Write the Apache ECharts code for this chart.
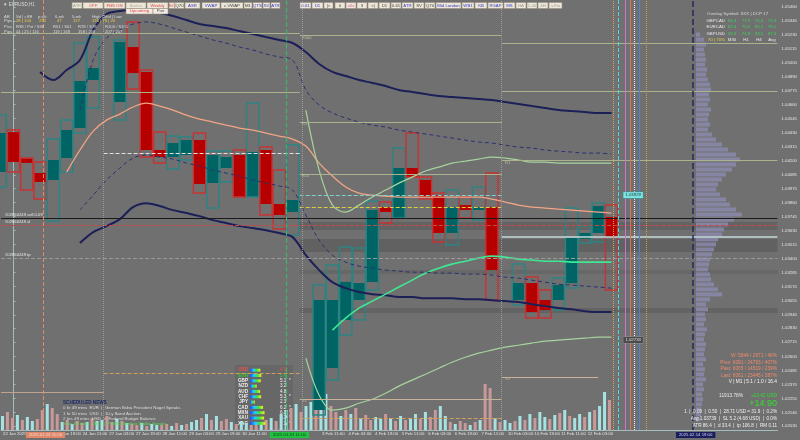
<!DOCTYPE html>
<html><head><meta charset="utf-8">
<script src="https://cdn.jsdelivr.net/npm/echarts@6/dist/echarts.min.js"></script>
<style>html,body{margin:0;padding:0;background:#707070}#c{width:800px;height:440px}</style>
</head><body><div id="c"></div>
<script>
// ---------- DATA ----------
const priceTicks = [1.05460,1.05345,1.05230,1.05115,1.05000,1.04890,1.04775,1.04660,1.04545,1.04430,1.04315,1.04200,1.04085,1.03975,1.03860,1.03745,1.03630,1.03515,1.03400,1.03285,1.03170,1.03055,1.02940,1.02830,1.02715,1.02600,1.02485,1.02370,1.02255,1.02140,1.02030];
const timeLabels = ['22 Jan 2025',null,'23 Jan 19:00','24 Jan 11:00','27 Jan 03:00','27 Jan 19:00','28 Jan 11:00','29 Jan 03:00','29 Jan 19:00','30 Jan 11:00',null,null,'3 Feb 11:00','4 Feb 03:00','4 Feb 19:00','5 Feb 11:00','6 Feb 03:00','6 Feb 19:00','7 Feb 11:00','10 Feb 03:00','10 Feb 19:00','11 Feb 11:00','12 Feb 03:00'];
const markerLabels = ['2025.01.23 11:00','2025.01.31 11:00','2025.02.14 19:00'];
const markerSlots = [0.94, 19.29, 49.85];

const candleSlot  = [-1,0,1,2,3,4,5,6,8,9,10,11,12,13,14,15,16,17,18,19,20,21,23,24,25,26,27,28,29,30,31,32,33,34,35,36,38,39,40,41,42,43,44,45];
const candleOpen  = [1.04109,1.04436,1.04220,1.04101,1.04044,1.04224,1.04469,1.04862,1.04682,1.05132,1.04928,1.04289,1.04232,1.04248,1.04371,1.04019,1.04142,1.04248,1.03906,1.04289,1.03847,1.03782,1.02161,1.02505,1.02898,1.03061,1.03209,1.03822,1.03735,1.04142,1.04044,1.03921,1.03610,1.03839,1.03798,1.03822,1.03061,1.03200,1.03061,1.03061,1.03200,1.03561,1.03610,1.03741];
const candleClose = [1.04428,1.04191,1.04183,1.04027,1.04207,1.04453,1.04854,1.04960,1.05173,1.04919,1.04289,1.04232,1.04346,1.04371,1.04011,1.04248,1.04232,1.03906,1.04273,1.03847,1.03757,1.03880,1.03061,1.03061,1.03209,1.03200,1.03798,1.03782,1.04142,1.04068,1.03904,1.03610,1.03822,1.03798,1.03822,1.03307,1.03200,1.02963,1.02979,1.03184,1.03569,1.03610,1.03831,1.03577];
const candleLow   = [1.03986,1.04109,1.03962,1.03888,1.03708,1.04109,1.04428,1.04633,1.04535,1.04788,1.04232,1.04183,1.04134,1.04207,1.03937,1.03814,1.04027,1.03904,1.03904,1.03757,1.03642,1.03593,1.02120,1.02406,1.02775,1.02898,1.03143,1.03691,1.03732,1.04068,1.03888,1.03536,1.03511,1.03732,1.03716,1.03061,1.03020,1.02914,1.02914,1.02979,1.03160,1.03528,1.03536,1.03143];
const candleHigh  = [1.04576,1.04453,1.04224,1.04191,1.04379,1.04535,1.05165,1.05214,1.05190,1.05337,1.04944,1.04436,1.04404,1.04396,1.04428,1.04281,1.04281,1.04289,1.04674,1.04314,1.04125,1.04330,1.03184,1.03348,1.03495,1.03487,1.03872,1.03864,1.04306,1.04428,1.04068,1.03937,1.03962,1.03904,1.03986,1.04101,1.03356,1.03250,1.03143,1.03241,1.03814,1.03667,1.03855,1.03839];

const upperBandStart = 2;
const upperBand = [1.04928,1.04862,1.04944,1.05026,1.05271,1.05402,1.05427,1.05435,1.05427,1.05411,1.05386,1.05353,1.05320,1.05304,1.05288,1.05263,1.05239,1.05214,1.05190,1.05165,1.05091,1.04993,1.04928,1.04895,1.04862,1.04838,1.04813,1.04780,1.04764,1.04747,1.04731,1.04723,1.04715,1.04707,1.04698,1.04682,1.04666,1.04649,1.04633,1.04617,1.04608,1.04600,1.04592,1.04592];
const lowerBandStart = 5;
const lowerBand = [1.03527,1.03617,1.03666,1.03723,1.03822,1.03854,1.03830,1.03797,1.03773,1.03748,1.03715,1.03691,1.03666,1.03650,1.03633,1.03609,1.03576,1.03429,1.03306,1.03207,1.03158,1.03126,1.03109,1.03101,1.03085,1.03085,1.03076,1.03076,1.03076,1.03068,1.03068,1.03060,1.03052,1.03044,1.03027,1.03011,1.02995,1.02986,1.02970,1.02962,1.02962];
const midLineStart = 4;
const midLine = [1.04108,1.04289,1.04444,1.04534,1.04583,1.04641,1.04673,1.04649,1.04616,1.04575,1.04542,1.04518,1.04493,1.04469,1.04452,1.04428,1.04403,1.04379,1.04321,1.04182,1.04076,1.03986,1.03936,1.03920,1.03912,1.03904,1.03904,1.03904,1.03904,1.03904,1.03904,1.03904,1.03887,1.03863,1.03838,1.03822,1.03814,1.03805,1.03797,1.03789,1.03781,1.03773];
const greenLineStart = 24;
const greenLine = [1.02814,1.02913,1.02995,1.03052,1.03109,1.03167,1.03224,1.03281,1.03322,1.03355,1.03379,1.03404,1.03420,1.03412,1.03396,1.03388,1.03379,1.03379,1.03371,1.03371,1.03371,1.03371];
const paleUpperStart = 22;
const paleUpper = [1.04616,1.04125,1.03838,1.03781,1.03838,1.03904,1.03961,1.04018,1.04067,1.04117,1.04149,1.04182,1.04198,1.04215,1.04231,1.04223,1.04207,1.04190,1.04190,1.04182,1.04182,1.04182,1.04182,1.04182];
const paleLowerStart = 22;
const paleLower = [1.02585,1.02282,1.02159,1.02176,1.02216,1.02249,1.02298,1.02356,1.02405,1.02454,1.02503,1.02552,1.02593,1.02626,1.02651,1.02675,1.02691,1.02708,1.02724,1.02732,1.02741,1.02749,1.02757,1.02757];
const upperDashStart = 5;
const upperDash = [1.04616,1.05026,1.05206,1.05271,1.05320,1.05337,1.05320,1.05288,1.05255,1.05222,1.05190,1.05165,1.05132,1.05108,1.05075,1.05050,1.05026,1.04780,1.04657,1.04592,1.04551,1.04518,1.04493,1.04477,1.04452,1.04436,1.04420,1.04403,1.04387,1.04370,1.04354,1.04346,1.04329,1.04313,1.04305,1.04289,1.04280,1.04272,1.04264,1.04264,1.04256];
const lowerDashStart = 5;
const lowerDash = [1.03797,1.03920,1.04043,1.04141,1.04223,1.04248,1.04231,1.04215,1.04182,1.04158,1.04125,1.04100,1.04076,1.04043,1.04018,1.03994,1.03961,1.03756,1.03551,1.03429,1.03371,1.03338,1.03322,1.03306,1.03298,1.03289,1.03289,1.03281,1.03281,1.03273,1.03273,1.03265,1.03248,1.03240,1.03224,1.03207,1.03191,1.03183,1.03175,1.03167,1.03158];

const volumes = [14,18,12,15,10,13,9,11,20,26,22,16,8,10,6,9,7,8,12,9,10,14,8,11,9,7,6,5,7,4,6,5,5,6,4,7,5,6,8,10,12,16,10,14,9,11,8,6,9,7,5,8,6,10,12,9,16,20,22,26,18,24,28,20,30,36,24,18,14,20,16,22,12,15,10,13,11,16,12,9,14,10,12,16,11,18,13,20,24,14,8,6,9,7,5,8,10,46,42,12,8,10,7,9,14,10,16,12,18,13,11,15,17,20,14,12,16,13,18,20,24,38,30];
const volDir = [1,0,0,1,0,1,1,0,0,1, 0,0,1,0,1,0,0,1,0,1, 1,0,0,1,0,1,0,0,1,0, 1,1,0,0,1,0,1,0,1,1, 0,1,0,1,0,0,1,0,1,1, 0,0,1,0,1,0,1,1,0,1, 0,1,1,0,1,1,0,0,1,0, 1,0,1,0,0,1,1,0,1,0, 1,0,1,1,0,1,0,0,1,1, 0,1,0,0,1,0,1,0,0,1, 0,1,1,0,1,0,1,0,1,1, 0,1,0,1,0,1,1,0,1,0, 1,1,0];

const profileTop = 1.05230, profileStep = 0.000409;
const profileVol = [4,8,10,8,9,10,9,11,10,12,14,15,13,14,12,15,13,12,14,12,16,20,26,32,40,44,40,36,30,26,22,20,24,30,34,40,46,38,32,28,26,22,20,18,16,14,13,12,14,15,18,22,26,14,10,12,9,10,8,11,9,8,10,9,8,10,7,9,8,10,7,8,6,7,6,5,5,4];

const currencies = ['USD','EUR','GBP','NZD','AUD','CHF','JPY','CAD','MXN','XAU','XAG'];
const strength = [4.9,5.4,5.1,3.2,4.8,5.3,2.3,6.2,6.9,6.7,7.3];
const strengthMark = ['','*','*','','','*','','*','*','*','*'];

const overlayRows = ['GBPCAD','EURCAD','GBPUSD'];
const overlayVals = [[84.4,77.9,75.5,79.3],[82.3,70.0,85.1,79.1],[94.3,74.9,93.1,87.4]];

// ---------- CHART ----------
const SLOT_MIN = -0.936, SLOT_MAX = 57.49, PMIN = 1.01997, PMAX = 1.05517;
const FONT = '"Liberation Sans", Arial, sans-serif';
const chart = echarts.init(document.getElementById('c'), null, {renderer:'canvas', width:800, height:440});

function linePts(start, arr){ return arr.map((p,i)=>[start+i, p]); }

const xTickVals = [], xTickText = [];
timeLabels.forEach((t,k)=>{ if(t){ xTickVals.push(-0.79 + 2*k); xTickText.push(t); } });
const mStyles = ['o','g','b'];
markerSlots.forEach((s,i)=>{ xTickVals.push(s); xTickText.push('{'+mStyles[i]+'|'+markerLabels[i]+'}'); });

const candleData = candleSlot.map((s,i)=>[s, candleOpen[i], candleClose[i], candleLow[i], candleHigh[i]]);

function lineSeries(name, start, arr, color, width, type, smooth){
  return {type:'line', name, data: linePts(start, arr), xAxisIndex:0, yAxisIndex:0, showSymbol:false, smooth: smooth===undefined?0.35:smooth,
    lineStyle:{color, width, type: type||'solid'}, z:4, silent:true};
}

const seg = (x1,x2,p,color,type,w)=>[{coord:[x1,p], lineStyle:{color, type:type||'solid', width:w||1}}, {coord:[x2,p]}];
const vl = (s,color,type,w)=>({xAxis:s, lineStyle:{color, type, width:w||1}});

const g = [];
function T(x,y,text,fill,size,align,weight){
  g.push({type:'text', x, y, z:20, style:{text, fill, font:(weight||'normal')+' '+size+'px '+FONT, textAlign:align||'left', textVerticalAlign:'middle'}});
}
function B(label,x0,x1,y0,h,color,bg){
  g.push({type:'rect', z:19, shape:{x:x0,y:y0,width:x1-x0,height:h}, style:{fill:bg||'#ece7d8', stroke:'#9a927f', lineWidth:0.6}});
  T((x0+x1)/2, y0+h/2, label, color, 4.3, 'center');
}
// toolbar
const BL='#3838c8', DK='#404040', RD='#e04040', GY='#9a9a9a';
[['ATF',72,82,GY],['OFF',83,103,'#e06060'],['FBS ON',104,125,RD],['Broker',126,146,'#b8b0a0'],['Weekly',147,168,RD],['EC',169,175,RD],['Q70',175,184,DK],['ASR',185,200,BL],['VWAP',202,220,BL],['c.VWAP',221,243,DK],['M1',244,252,DK],['QTS',253,262,BL],['SV',263,270,BL],['ATR',271,280,BL],
 ['0.61',300,311,BL],['D1',312,323,BL],['|>',324,333,DK],['0',335,345,DK],['x2v',346,356,'#e050a0'],['3',357,367,DK],['<|',368,378,DK],['D1',379,390,DK],['0.61',391,401,DK],['ATR',402,413,BL],['SV',414,424,DK],['Q70',425,435,DK],['Mid London',436,461,BL],['WB1',462,474,BL],['KB',475,487,BL],['RGAP',488,503,BL],['MS',504,515,BL],['HA',516,526,GY],['1.00',527,537,GY],['4H',538,548,GY],['s.Fix',549,562,GY]
].forEach(b=>B(b[0],b[1],b[2],2.5,6,b[3]));
B('Upcoming',126,153,8.5,5.5,RD,'#f4ece4');
B('Pair',153,168,8.5,5.5,DK,'#f4ece4');
// title & info table
T(3,5,'▼ EURUSD,H1','#dcdcdc',4.5);
const LC='#d8d8d8', YC='#e8d048';
T(4,16.5,'AR',LC,4.2); T(16,16.5,'Sd | cSR',LC,4.2); T(38,16.5,'p.wk',LC,4.2); T(55,16.5,'6-mk',LC,4.2); T(72,16.5,'5-mk',LC,4.2); T(92,16.5,'High | Mid | Low',LC,4.2);
T(4,21,'Pips',LC,4.2); T(16,21,'28 | 104',YC,4.2); T(39,21,'232',YC,4.2); T(57,21,'47',YC,4.2); T(73,21,'127',YC,4.2); T(92,21,'136 | 78 | 20',YC,4.2);
T(4,26.5,'Pivs',LC,4.2); T(16,26.5,'R38 / Pvt / S38',LC,4.2); T(53,26.5,'R61 / S61',LC,4.2); T(78,26.5,'R78 / S78',LC,4.2); T(105,26.5,'R100 / S100',LC,4.2);
T(4,31.5,'Pips',LC,4.2); T(16,31.5,'44 | 25 | 116',LC,4.2); T(53,31.5,'119 | 169',LC,4.2); T(78,31.5,'158 | 208',LC,4.2); T(105,31.5,'207 | 257',LC,4.2);
T(302,37.5,'R100','#b8c49a',4); T(302,124,'R1','#b8c49a',4); T(302,176,'S10','#b8c49a',4); T(505,163,'R1','#b8c49a',4); T(302,401,'S1','#c8b49a',4); T(505,379,'S3','#c8b49a',4);
// left order labels
T(5,215,'#02860249 sell 0.09','#e8e8e8',4.2);
T(5,222,'#02860249 sl','#e8e8e8',4.2);
T(5,255,'#02860249 tp','#e8e8e8',4.2);
// news
T(63,402.5,'SCHEDULED NEWS','#1c2a6a',4.6,'left','bold');
T(63,408,'0 hr 49 mins  EUR  |  German Buba President Nagel Speaks','#dcdcdc',4.4);
T(63,413.3,'1 hr 50 mins  USD  |  10-y Bond Auction','#dcdcdc',4.4);
T(63,418.6,'2 hrs 49 mins  USD  >  Federal Budget Balance','#dcdcdc',4.4);
T(63,424,'5 hrs 54 mins  USD  |  FOMC Member Waller Speaks','#58e058',4.4);
// currency panel bg
g.push({type:'rect', z:0, shape:{x:235,y:365,width:58,height:63}, style:{fill:'#676767'}});
// top-right overlay panel
T(707,14,'Overlay Symbol: XXX | DCP 17','#d8d8d8',4.4);
const colX=[732,746,759,772];
overlayRows.forEach((r,i)=>{ const y=20.5+6.5*i; T(725,y,r,'#e8e8e8',4.4,'right'); overlayVals[i].forEach((v,j)=>T(colX[j],y,v.toFixed(1),'#40d060',4.4,'center')); });
T(725,40,'70 | 70%',YC,4.4,'right'); ['M30','H1','H4','Avg'].forEach((t,j)=>T(colX[j],40,t,'#e8e8e8',4.4,'center'));
// right stats
const SC='#f08a6a';
T(777,356,'W: 5844 / 2671 / 46%',SC,4.8,'right');
T(777,362.5,'Prev: 6091 / 24793 / 407%',SC,4.8,'right');
T(777,369,'Past: 6065 / 14519 / 239%',SC,4.8,'right');
T(777,375.5,'Last: 6061 / 23445 / 387%',SC,4.8,'right');
T(777,381.5,'V | M1 | 5.1 / 1.0 / 16.4','#f4f4f4',4.8,'right');
T(743,396,'11913.78%','#e8e8e8',4.8,'right');
T(777,396,'+13.41 USD','#30e030',4.8,'right');
T(777,404,'+14.90','#30e030',9,'right');
T(777,412,'1  |  0.09  |  0.50  |  28.71 USD = 31.9  |  0.2%','#f0f0f0',4.6,'right');
T(777,418.8,'Avg 1.03739  |  SL 5.2 (4.68 USD)  |  0.0%','#f0f0f0',4.6,'right');
T(777,425.6,'ATR 86.4  |  d 33.4  |  tp 106.8  |  RM 0.11','#f0f0f0',4.6,'right');

const option = {
  animation:false,
  backgroundColor:'#707070',
  textStyle:{fontFamily:FONT},
  graphic:{elements:g},
  grid:[
    {left:0, right:20, top:0, bottom:10},
    {left:0, width:612, top:0, bottom:10},
    {left:695, width:85, top:0, bottom:10},
    {left:250, top:367.5, width:16, height:58.5}
  ],
  xAxis:[
    {type:'value', gridIndex:0, min:SLOT_MIN, max:SLOT_MAX, splitLine:{show:false},
      axisLine:{show:true, lineStyle:{color:'#a4bcbc', width:1}}, axisTick:{show:false},
      axisLabel:{customValues:xTickVals, align:'left', margin:2, fontSize:4.3, color:'#e4e4e4',
        formatter:(v)=>{ let b=0,bd=1e9; xTickVals.forEach((x,i)=>{const d=Math.abs(x-v); if(d<bd){bd=d;b=i;}}); return xTickText[b]; },
        rich:{o:{backgroundColor:'#e0886c', color:'#f8d8c8', fontSize:4.3, padding:[1,3]},
              g:{backgroundColor:'#22c040', color:'#104010', fontSize:4.3, padding:[1,3]},
              b:{backgroundColor:'#1a1e5c', color:'#d8d8ff', fontSize:4.3, padding:[1,3]}}}},
    {type:'category', gridIndex:1, data:volumes.map((v,i)=>i), show:false},
    {type:'value', gridIndex:2, min:0, max:85, show:false},
    {type:'value', gridIndex:3, min:0, max:7.6, show:false}
  ],
  yAxis:[
    {type:'value', gridIndex:0, position:'right', min:PMIN, max:PMAX, splitLine:{show:false},
      axisLine:{show:true, lineStyle:{color:'#a4bcbc'}}, axisTick:{show:true, length:2, customValues:priceTicks, lineStyle:{color:'#a4bcbc'}},
      axisLabel:{customValues:priceTicks, margin:4, fontSize:4.3, color:'#e4e4e4', formatter:(v)=>v.toFixed(5)}},
    {type:'value', gridIndex:1, min:0, max:430, show:false},
    {type:'value', gridIndex:2, min:PMIN, max:PMAX, show:false},
    {type:'category', gridIndex:3, data:currencies, inverse:true, axisLine:{show:false}, axisTick:{show:false},
      axisLabel:{interval:0, margin:2, fontSize:4.6, fontWeight:'bold', formatter:(v,i)=> i===0?'{r|'+v+'}': i===1?'{gr|'+v+'}':'{w|'+v+'}',
        rich:{r:{color:'#f05050',fontSize:4.6,fontWeight:'bold'}, gr:{color:'#30d030',fontSize:4.6,fontWeight:'bold'}, w:{color:'#f0f0f0',fontSize:4.6,fontWeight:'bold'}}}},
    {type:'category', gridIndex:3, data:strength.map((v,i)=>v.toFixed(1)+(strengthMark[i]?'  '+strengthMark[i]:'')), inverse:true, position:'right', offset:13,
      axisLine:{show:false}, axisTick:{show:false},
      axisLabel:{interval:0, align:'left', margin:1, fontSize:4.6, formatter:(v,i)=> i===0?'{r|'+v+'}': i===1?'{gr|'+v+'}':'{w|'+v+'}',
        rich:{r:{color:'#f05050',fontSize:4.6}, gr:{color:'#30d030',fontSize:4.6}, w:{color:'#f0f0f0',fontSize:4.6}}}}
  ],
  series:[
    {type:'line', name:'levels', xAxisIndex:0, yAxisIndex:0, data:[[SLOT_MIN,1.03729],[SLOT_MAX,1.03729]], showSymbol:false, lineStyle:{opacity:0}, z:1, silent:true,
      markArea:{silent:true, data:[
        [{coord:[21.54,1.03700], itemStyle:{color:'rgba(85,85,85,0.45)'}},{coord:[SLOT_MAX,1.03634]}],
        [{coord:[21.54,1.03561], itemStyle:{color:'rgba(85,85,85,0.55)'}},{coord:[SLOT_MAX,1.03454]}],
        [{coord:[21.54,1.03306], itemStyle:{color:'rgba(85,85,85,0.35)'}},{coord:[SLOT_MAX,1.03275]}],
        [{coord:[21.54,1.02995], itemStyle:{color:'rgba(85,85,85,0.45)'}},{coord:[SLOT_MAX,1.02955]}]
      ]},
      markLine:{silent:true, symbol:['none','none'], label:{show:false}, data:[
        seg(SLOT_MIN,21.54,1.05247,'#a9b48c'),
        seg(SLOT_MIN,21.54,1.04764,'#a9b48c'),
        seg(21.54,36.74,1.05230,'#a9b48c'),
        seg(21.54,36.74,1.04518,'#a9b48c'),
        seg(21.54,36.74,1.04093,'#a9b48c'),
        seg(36.74,SLOT_MAX,1.05165,'#a9b48c'),
        seg(36.74,SLOT_MAX,1.04772,'#a9b48c'),
        seg(36.74,SLOT_MAX,1.04207,'#a9b48c'),
        seg(SLOT_MIN,6.78,1.02308,'#c0a48e'),
        seg(21.54,36.74,1.02251,'#c8b49a'),
        seg(36.74,44.0,1.02431,'#c8b49a'),
        seg(6.78,21.54,1.04265,'#e0e0e0','dashed'),
        seg(21.54,36.74,1.03822,'#d8d040','dashed'),
        seg(21.54,36.74,1.03921,'#80d0d0','dashed'),
        seg(6.78,21.54,1.02464,'#d0a060','dashed'),
        seg(21.54,36.74,1.02095,'#d0a060','dashed'),
        seg(36.74,SLOT_MAX,1.03577,'#c4d8d8','solid',1.5),
        seg(SLOT_MIN,SLOT_MAX,1.03675,'#c84848','dashed'),
        seg(SLOT_MIN,SLOT_MAX,1.03405,'#9a9a9a','dashed'),
        seg(SLOT_MIN,SLOT_MAX,1.03733,'#1a1a1a','solid'),
        vl(2.21,'#e08a6a','dashed'), vl(6.78,'#9a9a9a','dotted'), vl(20.56,'#3cb371','dashed',1.2),
        vl(21.76,'#9a9a9a','dotted'), vl(36.74,'#9a9a9a','dotted'),
        vl(45.13,'#e0a050','dotted'), vl(45.5,'#40e0e0','dashed'), vl(46.03,'#d070d0','solid'),
        vl(46.4,'#e07050','solid'), vl(46.7,'#f0f0f0','dotted'), vl(47.1,'#5080d0','solid'),
        vl(47.6,'#d0a040','dotted'), vl(51.1,'#24285a','dashed',1.5),
        {yAxis:1.03729, lineStyle:{opacity:0}, label:{show:true, position:'end', distance:2, formatter:'1.03729', color:'#ffffff', backgroundColor:'#0c0c0c', fontSize:4.3, padding:[1,2]}},
        {yAxis:1.03577, lineStyle:{opacity:0}, label:{show:true, position:'end', distance:2, formatter:'1.03580', color:'#203030', backgroundColor:'#d8f4f4', fontSize:4.3, padding:[1,2]}}
      ]},
      markPoint:{silent:true, symbol:'rect', symbolSize:0, data:[
        {coord:[46.63,1.03920], name:'1.03929', label:{show:true, position:'inside', formatter:'{b}', color:'#103838', backgroundColor:'#7fe0e0', borderColor:'#20a0a0', borderWidth:0.5, fontSize:4.3, padding:[1,2]}},
        {coord:[46.63,1.02734], name:'1.02733', label:{show:true, position:'inside', formatter:'{b}', color:'#e0e0e0', backgroundColor:'#4a4a4a', borderColor:'#909090', borderWidth:0.5, fontSize:4.3, padding:[1,2]}}
      ]}
    },
    {type:'bar', xAxisIndex:1, yAxisIndex:1, barWidth:3, z:1.5, silent:true,
      data: volumes.map((v,i)=>({value:v, itemStyle:{color: volDir[i] ? '#a6e2e2' : '#c99898'}}))},
    {type:'custom', xAxisIndex:2, yAxisIndex:2, z:1.6, silent:true,
      data: profileVol.map((v,i)=>[profileTop - i*profileStep, v]),
      renderItem:(params,api)=>{ const p=api.value(0), v=api.value(1);
        const a=api.coord([0,p+profileStep/2]), b=api.coord([v,p-profileStep/2]);
        return {type:'rect', shape:{x:a[0]+1, y:a[1], width:b[0]-a[0], height:Math.max(1,b[1]-a[1]-1)}, style:{fill:'rgba(140,140,178,0.8)'}}; }},
    {type:'custom', name:'candles', xAxisIndex:0, yAxisIndex:0, z:3, silent:true, data:candleData,
      renderItem:(params,api)=>{
        const x=api.value(0), o=api.value(1), c=api.value(2), l=api.value(3), h=api.value(4);
        const hw=0.46, up=c>=o;
        const a=api.coord([x-hw,h]), b=api.coord([x+hw,l]);
        const ba=api.coord([x-hw,Math.max(o,c)]), bb=api.coord([x+hw,Math.min(o,c)]);
        return {type:'group', children:[
          {type:'rect', shape:{x:ba[0], y:ba[1], width:bb[0]-ba[0], height:Math.max(1,bb[1]-ba[1])}, style:{fill: up?'#006464':'#b60000'}},
          {type:'rect', shape:{x:a[0], y:a[1], width:b[0]-a[0], height:b[1]-a[1]}, style:{fill:'none', stroke: up?'#2d8282':'#c83232', lineWidth:1.4}}
        ]};
      }},
    lineSeries('upperBand', upperBandStart, upperBand, '#1c1f58', 2),
    lineSeries('lowerBand', lowerBandStart, lowerBand, '#1c1f58', 2),
    lineSeries('mid', midLineStart, midLine, '#f2a484', 1.3),
    lineSeries('green', greenLineStart, greenLine, '#3fe893', 1.6),
    lineSeries('paleUpper', paleUpperStart, paleUpper, '#a6d49c', 1.2),
    lineSeries('paleLower', paleLowerStart, paleLower, '#a6d49c', 1.2),
    lineSeries('upperDash', upperDashStart, upperDash, '#2c3070', 1, [4,3]),
    lineSeries('lowerDash', lowerDashStart, lowerDash, '#2c3070', 1, [4,3]),
    {type:'bar', xAxisIndex:3, yAxisIndex:3, data:strength, barWidth:3, silent:true, z:5,
      itemStyle:{color:new echarts.graphic.LinearGradient(0,0,1,0,[{offset:0,color:'#2040ff'},{offset:0.35,color:'#20d0ff'},{offset:0.65,color:'#40e040'},{offset:1,color:'#f0f020'}])}}
  ]
};
chart.setOption(option);
</script>
</body></html>
